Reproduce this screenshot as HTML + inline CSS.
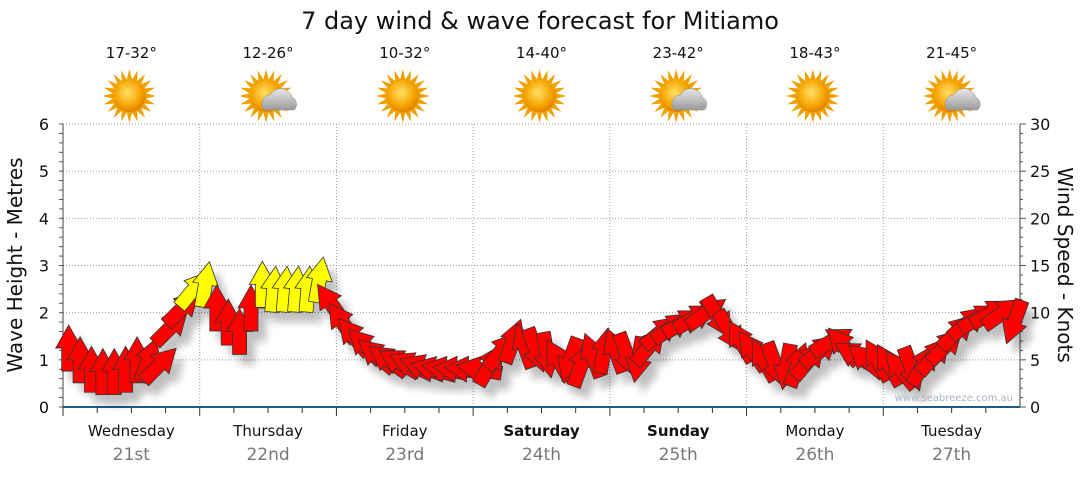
<!DOCTYPE html>
<html><head><meta charset="utf-8"><style>
body{margin:0;background:#fff;font-family:"Liberation Sans","DejaVu Sans",sans-serif}
svg text{font-family:"DejaVu Sans","Liberation Sans",sans-serif}
</style></head><body>
<svg id="c" width="1080" height="475" xmlns="http://www.w3.org/2000/svg">
<defs>
<filter id="sh" x="-50%" y="-50%" width="200%" height="200%"><feGaussianBlur in="SourceAlpha" stdDeviation="4"/><feOffset dx="8" dy="10"/><feComponentTransfer><feFuncA type="linear" slope="0.25"/></feComponentTransfer><feMerge><feMergeNode/><feMergeNode in="SourceGraphic"/></feMerge></filter>
<radialGradient id="sun" cx="45%" cy="40%" r="60%"><stop offset="0" stop-color="#ffe066"/><stop offset="0.7" stop-color="#f5a300"/><stop offset="1" stop-color="#e08000"/></radialGradient>
<linearGradient id="cloud" x1="0" y1="0" x2="0" y2="1"><stop offset="0" stop-color="#e8e8e8"/><stop offset="1" stop-color="#9a9a9a"/></linearGradient>
</defs>
<text x="540" y="29" text-anchor="middle" font-size="24" fill="#111">7 day wind &amp; wave forecast for Mitiamo</text>
<g id="grid"></g><g id="axes"></g><g id="icons"></g><g id="marks" filter="url(#sh)"></g>
<text x="1013" y="401" text-anchor="end" font-size="10" fill="#aab4c0">www.seabreeze.com.au</text>
<text transform="translate(22,265) rotate(-90)" text-anchor="middle" font-size="20" fill="#111">Wave Height - Metres</text>
<text transform="translate(1058,265) rotate(90)" text-anchor="middle" font-size="20" fill="#111">Wind Speed - Knots</text>
</svg>
<script>
const days=["Wednesday","Thursday","Friday","Saturday","Sunday","Monday","Tuesday"];
const dates=["21st","22nd","23rd","24th","25th","26th","27th"];
const temps=["17-32°","12-26°","10-32°","14-40°","23-42°","18-43°","21-45°"];
const cloudy=[0,1,0,0,1,0,1];
const leftTicks=[0,1,2,3,4,5,6];
const rightTicks=[0,5,10,15,20,25,30];
const waves=[1.25,1.0,0.8,0.75,0.75,0.8,1.0,1.0,0.9,1.7,2.1,2.5,
2.6,2.1,1.8,1.6,2.1,2.6,2.5,2.5,2.5,2.5,2.7,2.2,
1.8,1.5,1.3,1.1,1.0,0.95,0.9,0.85,0.8,0.8,0.8,0.8,
0.8,0.9,1.2,1.4,1.3,1.2,1.1,1.0,1.0,0.9,1.1,1.2,
1.2,1.1,1.0,1.3,1.6,1.7,1.8,1.9,2.0,1.9,1.6,1.4,
1.2,1.0,0.9,0.85,0.9,1.0,1.2,1.4,1.3,1.1,1.0,1.0,
0.9,0.8,0.8,0.9,1.1,1.3,1.6,1.8,1.9,2.0,2.0,1.8];
const windDir=[0,0,0,0,0,0,0,20,45,45,45,40,
10,0,0,0,0,0,5,5,5,5,10,-35,
-35,-40,-45,-50,-55,-60,-65,-70,-75,-80,-85,-85,
-80,30,40,20,-20,160,170,-30,200,20,-20,10,
-20,160,190,40,50,55,60,60,55,150,150,-30,
-35,-30,160,190,20,40,50,60,-40,-60,-50,-30,
-30,-40,160,30,40,45,45,50,60,60,55,200];
const windSpd=[8,8,7,7,7,8,8,9,9,10,12,14,
14,11,10,10,11,14,14,14,14,14,14,12,
11,10,9,8,8,7,7,7,7,7,7,7,
7,7,8,9,9,8,8,7,7,7,8,8,
8,8,8,9,10,10,11,11,12,11,10,9,
9,8,7,7,7,8,9,9,8,8,7,7,
7,7,7,8,8,9,10,11,11,12,12,11];
const X0=63,X1=1020,Y0=407,Y1=124;
const NS="http://www.w3.org/2000/svg";
const yL=v=>Y0-(v/6)*(Y0-Y1);
const yR=v=>Y0-(v/30)*(Y0-Y1);
const dayW=(X1-X0)/7;
const xT=i=>X0+dayW*(i+0.5)/12;
function mk(tag,attrs,parent,txt){const e=document.createElementNS(NS,tag);for(const k in attrs)e.setAttribute(k,attrs[k]);if(txt!==undefined)e.textContent=txt;parent.appendChild(e);return e;}
const grid=document.getElementById('grid'),axes=document.getElementById('axes'),icons=document.getElementById('icons'),marks=document.getElementById('marks');
leftTicks.forEach(v=>{if(v>0){const l=mk('line',{x1:X0,x2:X1,y1:yL(v),y2:yL(v),stroke:'#999','stroke-dasharray':'1,2'},grid);}
const t=mk('text',{x:X0-14,y:yL(v)+6,'text-anchor':'end','font-size':16,fill:'#111'},axes,String(v));});
for(let v=0;v<=6.001;v+=0.2){mk('line',{x1:X0-4,x2:X0,y1:yL(v),y2:yL(v),stroke:'#555'},axes);}
rightTicks.forEach(v=>{const t=mk('text',{x:X1+10,y:yR(v)+6,'font-size':16,fill:'#111'},axes,String(v));});
for(let v=0;v<=30.001;v+=1){mk('line',{x1:X1,x2:X1+(v%5==0?6:3),y1:yR(v),y2:yR(v),stroke:'#555'},axes);}
mk('line',{x1:X0,x2:X0,y1:Y1,y2:Y0,stroke:'#444'},axes);
mk('line',{x1:X1,x2:X1,y1:Y1,y2:Y0,stroke:'#444'},axes);
for(let d=0;d<7;d++){
 const xb=X0+d*dayW;
 if(d>0){const l=mk('line',{x1:xb,x2:xb,y1:Y1,y2:Y0,stroke:'#999','stroke-dasharray':'1,2'},grid);}
 for(let q=0;q<4;q++){mk('line',{x1:xb+q*dayW/4,x2:xb+q*dayW/4,y1:Y0,y2:Y0+(q==0?9:6),stroke:'#333'},axes);}
 const cx=xb+dayW/2,bold=(d==3||d==4);
 const a=mk('text',{x:cx,y:436,'text-anchor':'middle','font-size':15,fill:'#111','font-weight':bold?'bold':'normal'},axes,days[d]);
 const b=mk('text',{x:cx,y:460,'text-anchor':'middle','font-size':17,fill:'#777'},axes,dates[d]);
 const t=mk('text',{x:cx,y:58,'text-anchor':'middle','font-size':15,fill:'#111'},icons,temps[d]);
 const g=mk('g',{transform:`translate(${cx-2},96)`},icons);
 for(let r=0;r<20;r++){const ang=r*18;mk('polygon',{points:'-3,-15 3,-15 0,-27',fill:'#f0a000',transform:`rotate(${ang})`},g);}
 mk('circle',{cx:0,cy:0,r:16,fill:'url(#sun)'},g);
 if(cloudy[d]){mk('path',{d:'M-2,14 a9,9 0 0 1 6,-15 a12,12 0 0 1 22,2 a8,8 0 0 1 2,13 z',fill:'url(#cloud)',stroke:'#888','stroke-width':0.5},g);}
}
mk('line',{x1:X0,x2:X1,y1:Y0,y2:Y0,stroke:'#1f5a85','stroke-width':2},axes);
const arrow='M-7,23 L7,23 L7,0 L13,0 L0,-23 L-13,0 L-7,0 Z';
waves.forEach((v,i)=>{
 const p=mk('path',{d:arrow,fill:windSpd[i]>=13?'#ffff00':'#ff0000',stroke:'#333','stroke-width':0.8,transform:`translate(${xT(i)},${yL(v)}) rotate(${windDir[i]})`},marks);
 
 
});
</script>
</body></html>
